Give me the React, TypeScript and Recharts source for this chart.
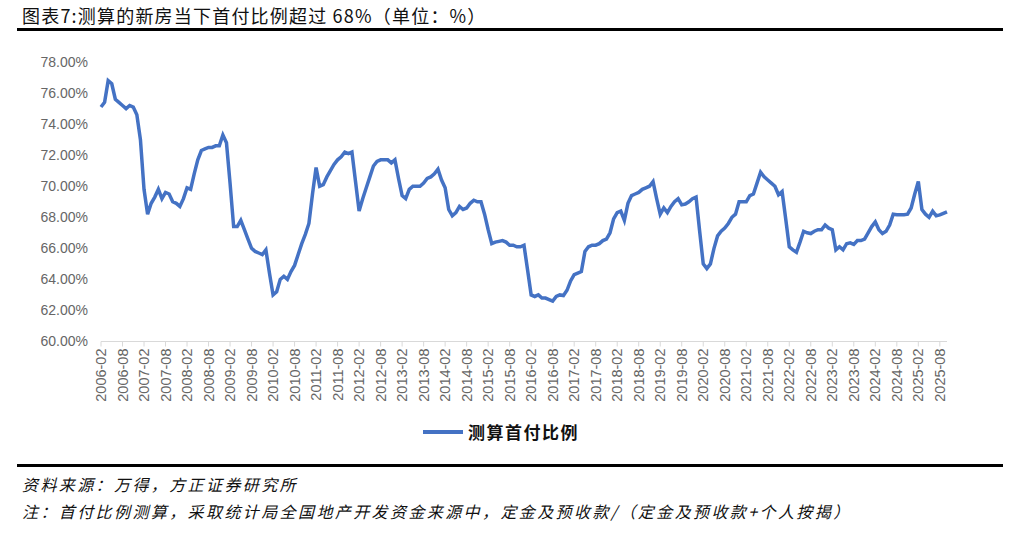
import React from 'react';
import { LineChart, Line, XAxis, YAxis } from 'recharts';

// 测算首付比例, monthly, 2006-02 .. 2025-10 (values in %)
const START_YEAR = 2006;
const START_MONTH = 2;

const y2006 = [75.1, 75.4, 76.8, 76.6, 75.6, 75.4, 75.2, 75.0, 75.2, 75.1, 74.6];
const y2007 = [73.0, 69.8, 68.2, 68.9, 69.3, 69.8, 69.2, 69.6, 69.5, 69.0, 68.9, 68.7];
const y2008 = [69.2, 69.9, 69.8, 70.8, 71.7, 72.3, 72.4, 72.5, 72.5, 72.6, 72.6, 73.3];
const y2009 = [72.8, 70.2, 67.4, 67.4, 67.8, 67.2, 66.6, 66.0, 65.8, 65.7, 65.6, 65.9];
const y2010 = [64.4, 63.0, 63.2, 64.0, 64.2, 64.0, 64.5, 64.9, 65.6, 66.3, 66.9, 67.6];
const y2011 = [69.5, 71.2, 70.0, 70.1, 70.6, 71.0, 71.4, 71.7, 71.9, 72.2, 72.1, 72.2];
const y2012 = [70.3, 68.4, 69.2, 69.9, 70.6, 71.3, 71.6, 71.7, 71.7, 71.7, 71.5, 71.7];
const y2013 = [70.5, 69.4, 69.2, 69.8, 70.0, 70.0, 70.0, 70.2, 70.5, 70.6, 70.8, 71.1];
const y2014 = [70.4, 69.9, 68.5, 68.1, 68.3, 68.7, 68.5, 68.6, 68.9, 69.1, 69.0, 69.0];
const y2015 = [68.2, 67.2, 66.3, 66.4, 66.45, 66.5, 66.4, 66.2, 66.2, 66.1, 66.1, 66.2];
const y2016 = [64.6, 63.0, 62.9, 63.0, 62.8, 62.8, 62.7, 62.6, 62.9, 63.0, 62.96, 63.3];
const y2017 = [63.9, 64.3, 64.4, 64.5, 65.8, 66.1, 66.2, 66.2, 66.3, 66.5, 66.6, 67.0];
const y2018 = [67.9, 68.3, 68.4, 67.8, 68.9, 69.4, 69.5, 69.6, 69.8, 69.9, 70.0, 70.3];
const y2019 = [69.2, 68.2, 68.6, 68.3, 68.7, 69.0, 69.2, 68.8, 68.85, 69.0, 69.2, 69.3];
const y2020 = [67.1, 65.0, 64.7, 65.0, 66.0, 66.8, 67.1, 67.3, 67.6, 68.0, 68.2, 69.0];
const y2021 = [69.0, 69.0, 69.4, 69.5, 70.2, 70.9, 70.6, 70.4, 70.2, 70.0, 69.45, 69.66];
const y2022 = [67.9, 66.1, 65.9, 65.75, 66.4, 67.1, 67.0, 66.95, 67.1, 67.2, 67.2, 67.5];
const y2023 = [67.3, 67.2, 65.9, 66.1, 65.9, 66.3, 66.35, 66.25, 66.5, 66.5, 66.6, 67.0];
const y2024 = [67.4, 67.7, 67.2, 66.95, 67.1, 67.5, 68.2, 68.17, 68.17, 68.17, 68.2, 68.6];
const y2025 = [69.5, 70.3, 68.5, 68.2, 68.0, 68.4, 68.1, 68.15, 68.25, 68.35];

const yTicks = [60, 62, 64, 66, 68, 70, 72, 74, 76, 78];

const series = [
  y2006, y2007, y2008, y2009, y2010, y2011, y2012, y2013, y2014, y2015,
  y2016, y2017, y2018, y2019, y2020, y2021, y2022, y2023, y2024, y2025,
].flat();

const data = series.map((v, i) => {
  const mIdx = START_MONTH - 1 + i;
  const year = START_YEAR + Math.floor(mIdx / 12);
  const month = (mIdx % 12) + 1;
  return { date: `${year}-${String(month).padStart(2, '0')}`, ratio: v };
});

const BLUE = '#4472C4';
const GREY = '#666666';

const XTick = ({ x, y, payload }: any) => (
  <text
    x={x}
    y={y}
    transform={`rotate(-90 ${x} ${y})`}
    textAnchor="end"
    dominantBaseline="central"
    fontSize={14.5}
    fill={GREY}
    fontFamily="Liberation Sans, Arial, sans-serif"
  >
    {payload.value}
  </text>
);

export default function App() {
  return (
    <div
      style={{
        position: 'absolute',
        left: 0,
        top: 0,
        width: 1024,
        height: 541,
        background: '#fff',
        fontFamily: '"Noto Sans CJK SC", sans-serif',
      }}
    >
      <div style={{ position: 'absolute', left: 22, top: 2, fontSize: 18, color: '#111', letterSpacing: 1.2, whiteSpace: 'nowrap' }}>
        图表7:测算的新房当下首付比例超过 68%（单位：%）
      </div>
      <div style={{ position: 'absolute', left: 17, top: 28, width: 986, height: 3, background: '#000' }} />

      <div style={{ position: 'absolute', left: 0, top: 0 }}>
        <LineChart width={1024} height={460} data={data} margin={{ top: 62, right: 77, left: 0, bottom: 48.5 }}>
          <XAxis
            dataKey="date"
            interval={5}
            height={70}
            tick={<XTick />}
            tickSize={5}
            tickMargin={2}
            axisLine={{ stroke: '#d9d9d9' }}
            tickLine={{ stroke: '#d9d9d9' }}
          />
          <YAxis
            width={101}
            domain={[60, 78]}
            ticks={yTicks}
            allowDataOverflow
            axisLine={false}
            tickLine={false}
            tickMargin={7}
            tickFormatter={(v: number) => `${v.toFixed(2)}%`}
            tick={{ fontSize: 14, fill: GREY, fontFamily: 'Liberation Sans, Arial, sans-serif' }}
          />
          <Line
            type="linear"
            dataKey="ratio"
            stroke={BLUE}
            strokeWidth={3.5}
            dot={false}
            isAnimationActive={false}
          />
        </LineChart>
      </div>

      {/* legend */}
      <div style={{ position: 'absolute', left: 423, top: 419, display: 'flex', alignItems: 'center' }}>
        <span style={{ display: 'inline-block', width: 40, height: 4, background: BLUE, marginRight: 5 }} />
        <span style={{ fontSize: 17, fontWeight: 700, color: '#111', letterSpacing: 1.5 }}>测算首付比例</span>
      </div>

      <div style={{ position: 'absolute', left: 17, top: 464, width: 986, height: 3, background: '#000' }} />
      <div style={{ position: 'absolute', left: 22, top: 472, fontSize: 16, fontStyle: 'italic', letterSpacing: 2.4, color: '#111', whiteSpace: 'nowrap' }}>
        资料来源：万得，方正证券研究所
      </div>
      <div style={{ position: 'absolute', left: 22, top: 499, fontSize: 16, fontStyle: 'italic', letterSpacing: 2.4, color: '#111', whiteSpace: 'nowrap' }}>
        注：首付比例测算，采取统计局全国地产开发资金来源中，定金及预收款/（定金及预收款+个人按揭）
      </div>
    </div>
  );
}
